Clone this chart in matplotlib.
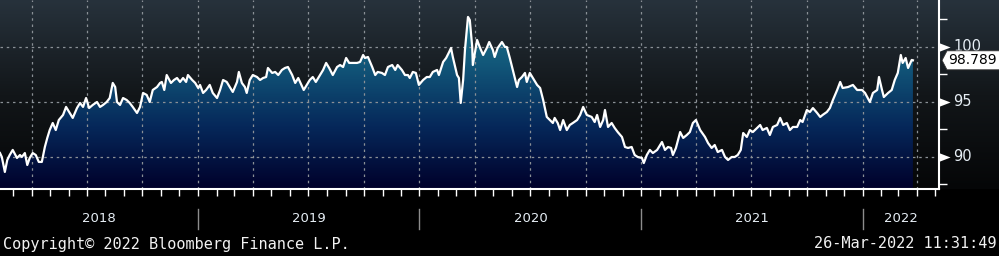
import numpy as np
import pandas as pd
import matplotlib
matplotlib.use("Agg")
import matplotlib.pyplot as plt
import matplotlib.dates as mdates
from matplotlib.colors import LinearSegmentedColormap
from matplotlib.path import Path
from matplotlib.patches import Polygon
from matplotlib.transforms import blended_transform_factory, IdentityTransform

# ---------------- data ----------------
dates = [
    "2018-02-08", "2018-02-11", "2018-02-16", "2018-02-20", "2018-02-24", "2018-03-01", "2018-03-08", "2018-03-13",
    "2018-03-16", "2018-03-21", "2018-03-25", "2018-03-29", "2018-04-03", "2018-04-08", "2018-04-13", "2018-04-18",
    "2018-04-23", "2018-04-27", "2018-05-01", "2018-05-06", "2018-05-11", "2018-05-16", "2018-05-23", "2018-05-28",
    "2018-06-03", "2018-06-08", "2018-06-15", "2018-06-20", "2018-06-25", "2018-06-30", "2018-07-05", "2018-07-11",
    "2018-07-18", "2018-07-23", "2018-07-28", "2018-08-03", "2018-08-08", "2018-08-13", "2018-08-17", "2018-08-20",
    "2018-08-25", "2018-08-30", "2018-09-05", "2018-09-10", "2018-09-15", "2018-09-22", "2018-09-27", "2018-10-02",
    "2018-10-08", "2018-10-13", "2018-10-18", "2018-10-25", "2018-10-30", "2018-11-02", "2018-11-06", "2018-11-10",
    "2018-11-17", "2018-11-22", "2018-11-27", "2018-12-02", "2018-12-07", "2018-12-12", "2018-12-15", "2018-12-22",
    "2018-12-27", "2019-01-01", "2019-01-04", "2019-01-09", "2019-01-14", "2019-01-20", "2019-01-25", "2019-02-01",
    "2019-02-06", "2019-02-11", "2019-02-17", "2019-02-22", "2019-02-27", "2019-03-06", "2019-03-09", "2019-03-14",
    "2019-03-19", "2019-03-22", "2019-03-27", "2019-04-01", "2019-04-08", "2019-04-13", "2019-04-18", "2019-04-23",
    "2019-04-26", "2019-05-03", "2019-05-08", "2019-05-13", "2019-05-19", "2019-05-24", "2019-05-29", "2019-06-05",
    "2019-06-10", "2019-06-15", "2019-06-18", "2019-06-24", "2019-06-29", "2019-07-04", "2019-07-09", "2019-07-14",
    "2019-07-19", "2019-07-26", "2019-07-31", "2019-08-05", "2019-08-11", "2019-08-18", "2019-08-23", "2019-08-28",
    "2019-09-02", "2019-09-07", "2019-09-13", "2019-09-20", "2019-09-25", "2019-09-30", "2019-10-03", "2019-10-08",
    "2019-10-15", "2019-10-20", "2019-10-24", "2019-10-31", "2019-11-05", "2019-11-10", "2019-11-17", "2019-11-22",
    "2019-11-26", "2019-12-03", "2019-12-08", "2019-12-13", "2019-12-16", "2019-12-21", "2019-12-26", "2019-12-31",
    "2020-01-07", "2020-01-13", "2020-01-18", "2020-01-23", "2020-01-30", "2020-02-02", "2020-02-09", "2020-02-14",
    "2020-02-19", "2020-02-22", "2020-02-25", "2020-03-03", "2020-03-06", "2020-03-09", "2020-03-13", "2020-03-16",
    "2020-03-21", "2020-03-24", "2020-03-28", "2020-03-29", "2020-04-03", "2020-04-05", "2020-04-10", "2020-04-15",
    "2020-04-21", "2020-04-25", "2020-05-01", "2020-05-04", "2020-05-09", "2020-05-16", "2020-05-21", "2020-05-24",
    "2020-05-29", "2020-06-03", "2020-06-10", "2020-06-13", "2020-06-18", "2020-06-23", "2020-06-26", "2020-07-01",
    "2020-07-06", "2020-07-13", "2020-07-18", "2020-07-23", "2020-07-29", "2020-08-03", "2020-08-08", "2020-08-11",
    "2020-08-16", "2020-08-20", "2020-08-25", "2020-08-31", "2020-09-05", "2020-09-10", "2020-09-17", "2020-09-22",
    "2020-09-27", "2020-10-03", "2020-10-11", "2020-10-16", "2020-10-20", "2020-10-25", "2020-10-30", "2020-11-02",
    "2020-11-07", "2020-11-13", "2020-11-18", "2020-11-23", "2020-11-30", "2020-12-05", "2020-12-10", "2020-12-16",
    "2020-12-21", "2020-12-26", "2021-01-02", "2021-01-05", "2021-01-10", "2021-01-15", "2021-01-20", "2021-01-27",
    "2021-01-30", "2021-02-04", "2021-02-09", "2021-02-14", "2021-02-19", "2021-02-22", "2021-02-27", "2021-03-06",
    "2021-03-11", "2021-03-17", "2021-03-22", "2021-03-27", "2021-04-01", "2021-04-08", "2021-04-16", "2021-04-21",
    "2021-04-27", "2021-05-02", "2021-05-07", "2021-05-14", "2021-05-19", "2021-05-24", "2021-05-30", "2021-06-04",
    "2021-06-09", "2021-06-14", "2021-06-18", "2021-06-24", "2021-06-29", "2021-07-04", "2021-07-11", "2021-07-16",
    "2021-07-20", "2021-07-27", "2021-08-01", "2021-08-06", "2021-08-13", "2021-08-18", "2021-08-23", "2021-08-29",
    "2021-09-03", "2021-09-08", "2021-09-15", "2021-09-20", "2021-09-24", "2021-10-01", "2021-10-06", "2021-10-11",
    "2021-10-18", "2021-10-23", "2021-10-27", "2021-11-03", "2021-11-08", "2021-11-13", "2021-11-20", "2021-11-25",
    "2021-11-29", "2021-12-08", "2021-12-16", "2021-12-23", "2021-12-31", "2022-01-05", "2022-01-13", "2022-01-18",
    "2022-01-25", "2022-01-28", "2022-02-02", "2022-02-05", "2022-02-12", "2022-02-18", "2022-02-23", "2022-02-28",
    "2022-03-05", "2022-03-08", "2022-03-13", "2022-03-17", "2022-03-23", "2022-03-25",
]
values = [
    90.36, 90.00, 88.64, 89.73, 90.18, 90.64, 89.91, 90.18,
    90.00, 90.36, 89.27, 89.91, 90.36, 90.18, 89.55, 89.55,
    90.91, 91.73, 92.45, 93.09, 92.45, 93.36, 93.82, 94.55,
    94.00, 93.55, 94.45, 94.91, 94.55, 95.36, 94.45, 94.73,
    95.00, 94.55, 94.73, 95.00, 95.36, 96.73, 96.36, 95.00,
    94.73, 95.36, 95.18, 94.91, 94.55, 94.00, 94.55, 95.82,
    95.64, 95.00, 96.09, 96.36, 96.73, 96.82, 96.09, 97.45,
    96.73, 97.00, 97.18, 96.82, 97.18, 96.82, 97.45, 97.00,
    96.73, 96.27, 96.55, 95.82, 96.09, 96.55, 95.82, 95.36,
    96.09, 97.00, 96.82, 96.36, 95.91, 96.82, 97.73, 96.73,
    96.36, 95.82, 97.00, 97.45, 97.27, 97.00, 97.18, 97.27,
    98.09, 97.64, 97.73, 97.45, 97.91, 98.09, 98.18, 97.45,
    96.73, 97.18, 96.82, 96.09, 96.55, 97.00, 97.27, 96.82,
    97.27, 97.91, 98.55, 98.09, 97.45, 98.18, 98.36, 98.18,
    99.00, 98.55, 98.55, 98.55, 98.64, 99.27, 99.00, 99.09,
    98.18, 97.45, 97.73, 97.64, 97.45, 98.18, 98.36, 97.91,
    98.36, 97.91, 97.45, 97.45, 97.18, 97.73, 97.64, 96.55,
    97.00, 97.27, 97.27, 97.73, 97.91, 97.45, 98.64, 99.00,
    99.55, 99.91, 99.09, 97.45, 97.18, 94.91, 97.00, 99.73,
    102.73, 102.45, 100.00, 98.36, 100.00, 100.64, 99.91, 99.27,
    99.91, 100.45, 99.73, 99.09, 99.91, 100.45, 100.00, 100.00,
    99.00, 97.91, 96.36, 97.00, 97.27, 97.64, 96.82, 97.64,
    97.18, 96.55, 96.27, 95.18, 93.64, 93.36, 93.09, 93.55,
    93.09, 92.45, 93.36, 92.45, 92.91, 93.09, 93.36, 93.82,
    94.55, 93.82, 93.64, 93.18, 93.82, 92.73, 93.36, 94.27,
    92.73, 93.09, 92.64, 92.27, 91.82, 90.91, 90.82, 90.91,
    90.18, 90.00, 89.91, 89.45, 90.18, 90.64, 90.36, 90.64,
    90.91, 91.36, 90.64, 90.91, 90.82, 90.18, 90.82, 92.27,
    91.73, 92.00, 92.27, 93.09, 93.36, 92.45, 91.82, 91.27,
    90.82, 91.09, 90.45, 90.64, 90.00, 89.73, 90.00, 90.00,
    90.18, 90.64, 92.18, 91.82, 92.45, 92.27, 92.64, 92.91,
    92.45, 92.64, 92.00, 92.73, 92.91, 93.55, 92.91, 93.09,
    92.45, 92.73, 92.73, 93.36, 93.18, 94.27, 94.09, 94.45,
    94.00, 93.64, 93.82, 94.09, 94.45, 95.18, 96.09, 96.82,
    96.27, 96.36, 96.55, 96.09, 96.09, 95.82, 95.00, 95.82,
    96.09, 97.27, 96.09, 95.45, 95.82, 96.09, 97.00, 97.64,
    99.27, 98.55, 99.00, 98.09, 98.82, 98.789,
]
last_value = 98.789
y_major = [90, 95, 100]
y_minor = [87.5, 92.5, 97.5, 102.5]
year_labels = ["2018", "2019", "2020", "2021", "2022"]
footer_left = "Copyright\u00a9 2022 Bloomberg Finance L.P."
footer_right = "26-Mar-2022 11:31:49"

# ---------------- figure ----------------
W, H = 999, 256
fig = plt.figure(figsize=(W / 100, H / 100), dpi=100, facecolor="black")
ax_l, ax_b, ax_w, ax_h = 0.0, 67 / H, 939 / W, 189 / H

# background gradient of upper panel (full width)
bg = fig.add_axes([0, ax_b, 1, ax_h], zorder=-10)
bg.axis("off")
grad = np.linspace(1, 0, 256).reshape(-1, 1)
bg_cmap = LinearSegmentedColormap.from_list("bg", ["#050607", "#121619", "#27323c"])
bg.imshow(grad, aspect="auto", cmap=bg_cmap, extent=[0, 1, 0, 1], interpolation="bilinear")

ax = fig.add_axes([ax_l, ax_b, ax_w, ax_h])
ax.patch.set_alpha(0)
x = pd.to_datetime(dates)
xmin, xmax = pd.Timestamp("2018-02-08"), pd.Timestamp("2022-05-07")
ymin, ymax = 87.09, 104.27

# gradient fill under the line
poly = ax.fill_between(x, values, ymin, facecolor="none", edgecolor="none")
fill_cmap = LinearSegmentedColormap.from_list("fill", ["#00002a", "#06285a", "#12587a", "#1f7d8f"])
im = ax.imshow(grad, aspect="auto", cmap=fill_cmap, interpolation="bilinear",
               extent=[mdates.date2num(xmin), mdates.date2num(xmax), ymin, ymax], zorder=1)
im.set_clip_path(poly.get_paths()[0], transform=ax.transData)

ax.plot(x, values, color="white", lw=1.6, zorder=4, solid_joinstyle="round")

ax.set_xlim(xmin, xmax)
ax.set_ylim(ymin, ymax)

# grid
grid_kw = dict(color="#8a9096", lw=0.9, linestyle=(0, (2, 3)), zorder=2)
for v in y_major:
    ax.axhline(v, **grid_kw)
for d in pd.date_range("2018-04-01", "2022-04-01", freq="QS"):
    ax.axvline(d, **grid_kw)

# spines
for s in ["top", "left"]:
    ax.spines[s].set_visible(False)
for s in ["right", "bottom"]:
    ax.spines[s].set_color("white")
    ax.spines[s].set_linewidth(1.5)
    ax.spines[s].set_zorder(5)

# x ticks (monthly)
ax.xaxis.set_major_locator(mdates.MonthLocator())
ax.tick_params(axis="x", which="major", length=5, width=1, color="white", labelbottom=False)

# y ticks
ax.yaxis.tick_right()
ax.set_yticks(y_major)
ax.set_yticks(y_minor, minor=True)
ax.tick_params(axis="y", which="major", length=0, labelright=False)
ax.tick_params(axis="y", which="minor", length=6, width=1, color="white")

trans_ay = blended_transform_factory(ax.transAxes, ax.transData)
tri = Path([(0, -0.5), (1.3, 0), (0, 0.5), (0, -0.5)], closed=True)
for v in y_major:
    ax.plot([1.0], [v], marker=tri, markersize=16, color="white", transform=trans_ay,
            clip_on=False, zorder=6, markeredgewidth=0)
    ax.annotate(str(v), xy=(1.0, v), xycoords=trans_ay, xytext=(10.5, 0), textcoords="offset points",
                ha="left", va="center", color="#e6eef5", fontsize=10.5, annotation_clip=False)

# last value tag
fig.canvas.draw()
_, py = ax.transData.transform((mdates.date2num(xmax), last_value))
px = ax.transAxes.transform((1.0, 0))[0]
hh = 9.5
tag = Polygon([(px + 3, py), (px + 8, py + hh), (W + 5, py + hh), (W + 5, py - hh), (px + 8, py - hh)],
              closed=True, facecolor="white", edgecolor="#333333", lw=0.6,
              transform=IdentityTransform(), zorder=10)
fig.add_artist(tag)
fig.text((px + 9) / W, py / H, f"{last_value:.3f}", ha="left", va="center", color="black",
         fontsize=10, zorder=11)

# year labels and separators
trans_xf = blended_transform_factory(ax.transData, fig.transFigure)
for lab in year_labels:
    y0 = max(pd.Timestamp(f"{lab}-01-01"), xmin)
    y1 = min(pd.Timestamp(f"{int(lab) + 1}-01-01"), xmax)
    c = y0 + (y1 - y0) / 2
    fig.text(mdates.date2num(c), (H - 218) / H, lab, transform=trans_xf, ha="center", va="center",
             color="#e6eef5", fontsize=9.5)
for lab in year_labels[1:]:
    d = mdates.date2num(pd.Timestamp(f"{lab}-01-01"))
    fig.add_artist(plt.Line2D([d, d], [(H - 209) / H, (H - 229) / H], transform=trans_xf,
                              color="#8c8c8c", lw=1))

# footer
fig.text(3 / W, (H - 244) / H, footer_left, ha="left", va="center", color="#f2f2f2",
         fontsize=11, family="DejaVu Sans Mono")
fig.text(996 / W, (H - 244) / H, footer_right, ha="right", va="center", color="#f2f2f2",
         fontsize=11, family="DejaVu Sans Mono")

fig.savefig("out.png", dpi=100, facecolor="black")
